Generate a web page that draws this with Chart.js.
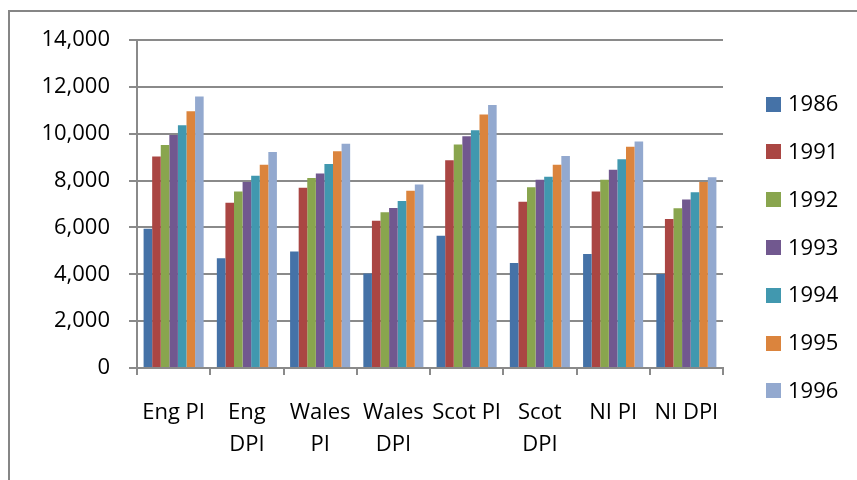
<!DOCTYPE html>
<html>
<head>
<meta charset="utf-8">
<script src="https://cdn.jsdelivr.net/npm/chart.js@4/dist/chart.umd.min.js"></script>
<style>
  html, body { margin: 0; padding: 0; background: #fff; }
  #wrap { position: relative; width: 857px; height: 480px; overflow: hidden; }
  #frame { position: absolute; left: 8px; top: 10px; width: 900px; height: 500px;
           border-left: 2px solid #868686; border-top: 2px solid #868686; box-sizing: border-box; }
  #chart { position: absolute; left: 0; top: 0; }
</style>
</head>
<body>
<div id="wrap">
  <div id="frame"></div>
  <canvas id="chart" width="857" height="480"></canvas>
</div>
<script>
// Category labels (multi-line where the axis wraps them)
const categories = [
  'Eng PI', ['Eng', 'DPI'], ['Wales', 'PI'], ['Wales', 'DPI'],
  'Scot PI', ['Scot', 'DPI'], 'NI PI', 'NI DPI'
];

const years = ['1986', '1991', '1992', '1993', '1994', '1995', '1996'];

// Values per year, one entry per category
const y1986 = [5940, 4680, 4970, 4030, 5650, 4480, 4870, 4010];
const y1991 = [9030, 7050, 7690, 6290, 8870, 7100, 7530, 6360];
const y1992 = [9520, 7530, 8110, 6650, 9540, 7720, 8040, 6820];
const y1993 = [9950, 7940, 8300, 6830, 9890, 8030, 8460, 7190];
const y1994 = [10360, 8210, 8710, 7130, 10150, 8160, 8910, 7500];
const y1995 = [10960, 8670, 9250, 7570, 10820, 8670, 9440, 7940];
const y1996 = [11590, 9220, 9570, 7830, 11230, 9050, 9670, 8140];

const yTicks = [0, 2000, 4000, 6000, 8000, 10000, 12000, 14000];

const seriesValues = [y1986, y1991, y1992, y1993, y1994, y1995, y1996];
const seriesColors = ['#4572A7', '#AA4643', '#89A54E', '#71588F', '#4198AF', '#DB843D', '#93A9CF'];

const FONT = '"Open Sans", "Liberation Sans", sans-serif';
const AXIS_GREY = '#8a8a8a';

// Legend drawn on the canvas, listing each dataset with its colour box
const sideLegend = {
  id: 'sideLegend',
  afterDraw(chart) {
    const ctx = chart.ctx;
    ctx.save();
    ctx.font = '22px ' + FONT;
    ctx.textBaseline = 'middle';
    ctx.textAlign = 'left';
    chart.data.datasets.forEach((ds, i) => {
      const cy = 104 + i * 47.8;
      ctx.fillStyle = ds.backgroundColor;
      ctx.fillRect(766, Math.round(cy - 7.5), 15, 15);
      ctx.fillStyle = '#000';
      ctx.fillText(ds.label, 788, cy + 1);
    });
    ctx.restore();
  }
};

new Chart(document.getElementById('chart'), {
  type: 'bar',
  data: {
    labels: categories,
    datasets: years.map((y, i) => ({
      label: y,
      data: seriesValues[i],
      backgroundColor: seriesColors[i],
      borderWidth: 0,
      categoryPercentage: 0.82,
      barPercentage: 1.0
    }))
  },
  options: {
    responsive: false,
    animation: false,
    layout: { padding: { left: 0, top: 40, right: 134, bottom: 0 } },
    plugins: {
      legend: { display: false },
      tooltip: { enabled: false }
    },
    scales: {
      x: {
        offset: true,
        grid: {
          offset: true,
          drawOnChartArea: false,
          drawTicks: true,
          tickLength: 7,
          color: AXIS_GREY,
          lineWidth: 2
        },
        border: { display: true, color: AXIS_GREY, width: 2 },
        ticks: {
          color: '#000',
          font: { family: FONT, size: 22, lineHeight: 1.45 },
          padding: 22,
          maxRotation: 0,
          autoSkip: false
        },
        afterFit(scale) { scale.height = 112; }
      },
      y: {
        min: 0,
        max: 14000,
        afterBuildTicks(scale) { scale.ticks = yTicks.map(v => ({ value: v })); },
        grid: {
          color: AXIS_GREY,
          lineWidth: 2,
          tickLength: 8,
          drawTicks: true
        },
        border: { display: true, color: AXIS_GREY, width: 2 },
        ticks: {
          color: '#000',
          font: { family: FONT, size: 22 },
          padding: 19,
          callback: v => v.toLocaleString('en-US')
        },
        afterFit(scale) { scale.width = 137; }
      }
    }
  },
  plugins: [sideLegend]
});
</script>
</body>
</html>
